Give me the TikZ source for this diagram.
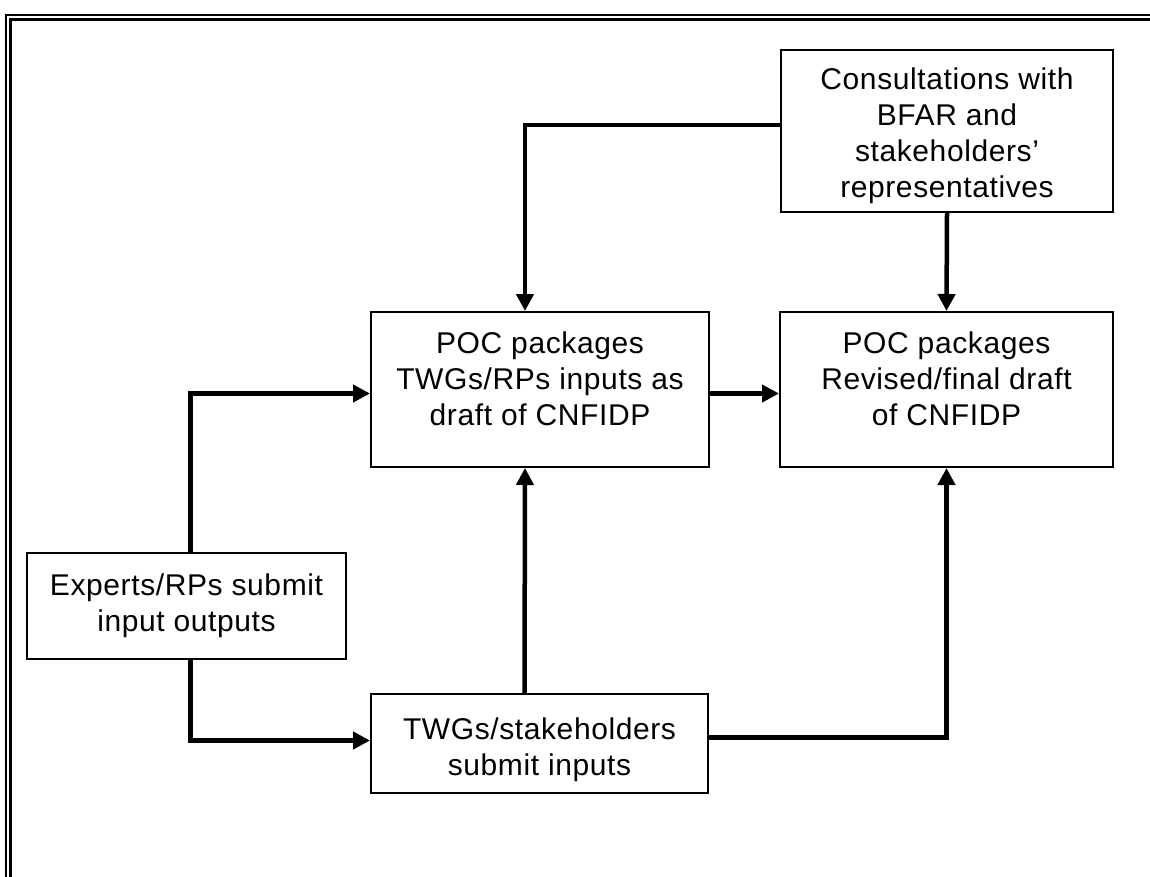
\documentclass[tikz,border=0pt]{standalone}
\usepackage{fontspec}
\setmainfont{Liberation Sans}[LetterSpace=2]
\usetikzlibrary{arrows.meta}

\begin{document}
\begin{tikzpicture}[x=1pt,y=-1pt,
  box/.style={draw, line width=2pt, inner sep=0pt},
  txt/.style={align=center, inner sep=0pt, font=\fontsize{30}{36}\selectfont},
  arr/.style={line width=4.5pt, -{Triangle[length=17pt,width=17pt]}}]
\useasboundingbox (0,0) rectangle (1150,877);

% page frame (thin outer rule, thicker inner rule)
\draw[line width=2pt] (6,877) -- (6,15) -- (1150,15);
\draw[line width=3pt] (10.5,877) -- (10.5,19.7) -- (1150,19.7);

% process boxes
\node[box, minimum width=332, minimum height=162] (cons) at (947,131) {};
\node[box, minimum width=338, minimum height=155] (poc1) at (540,389.5) {};
\node[box, minimum width=333, minimum height=155] (poc2) at (946.5,389.5) {};
\node[box, minimum width=319, minimum height=106] (exp) at (186.5,606) {};
\node[box, minimum width=337, minimum height=99] (twg) at (539.5,743.5) {};

% box texts
\node[txt] (cons-t) at ([yshift=-5]cons.center)
  {Consultations with\\BFAR and\\stakeholders’\\representatives};
\node[txt] (poc1-t) at ([yshift=11]poc1.center)
  {POC packages\\TWGs/RPs inputs as\\draft of CNFIDP};
\node[txt] (poc2-t) at ([yshift=11]poc2.center)
  {POC packages\\Revised/final draft\\of CNFIDP};
\node[txt] (exp-t) at (exp.center)
  {Experts/RPs submit\\input outputs};
\node[txt] (twg-t) at ([yshift=-6]twg.center)
  {TWGs/stakeholders\\submit inputs};

% flows
\draw[arr] ([yshift=6]cons.west) -| ([xshift=-15]poc1.north);
\draw[arr] (cons.south) -- (poc2.north);
\draw[arr] ([yshift=-4]poc1.east) -- ([yshift=-4]poc2.west);
\draw[arr] ([xshift=4]exp.north) |- ([yshift=-4]poc1.west);
\draw[arr] ([xshift=4]exp.south) |- ([yshift=3]twg.west);
\draw[arr] ([xshift=-15]twg.north) -- ([xshift=-15]poc1.south);
\draw[arr] ([yshift=6]twg.east) -| (poc2.south);
\end{tikzpicture}
\end{document}
